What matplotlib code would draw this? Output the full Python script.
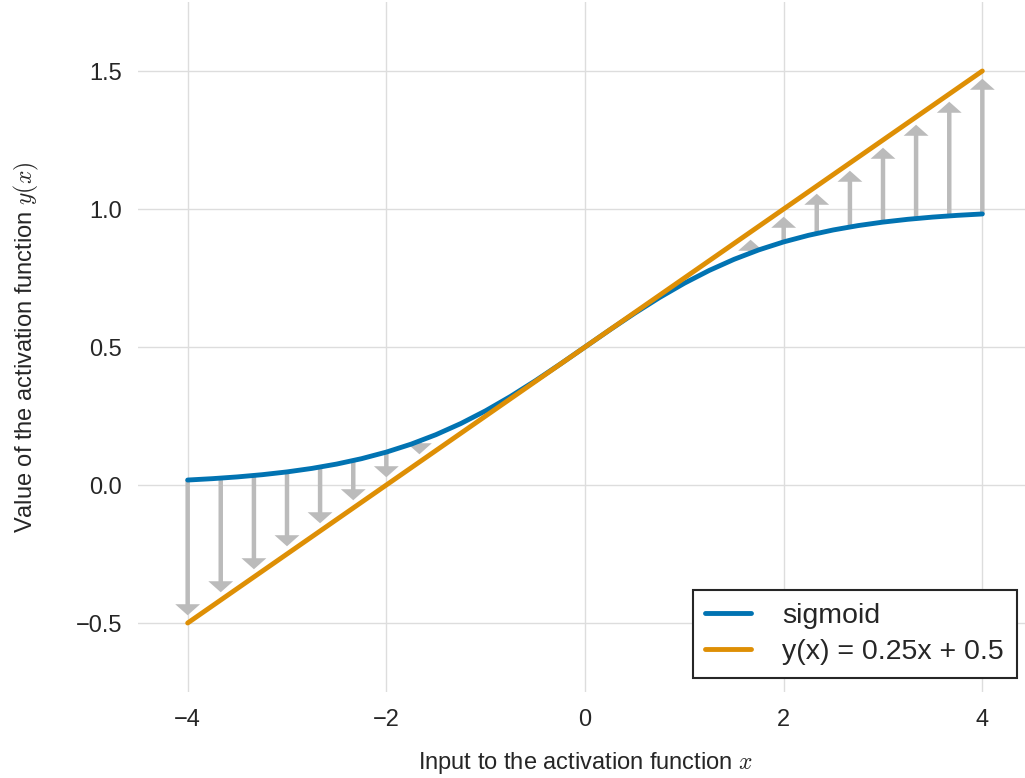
import matplotlib
matplotlib.use("Agg")
import matplotlib.pyplot as plt

# ---- data ----
curve_x = [-4.0, -3.75, -3.5, -3.25, -3.0, -2.75, -2.5, -2.25, -2.0, -1.75, -1.5,
           -1.25, -1.0, -0.75, -0.5, -0.25, 0.0, 0.25, 0.5, 0.75, 1.0, 1.25, 1.5,
           1.75, 2.0, 2.25, 2.5, 2.75, 3.0, 3.25, 3.5, 3.75, 4.0]
sigmoid_y = [0.01799, 0.02298, 0.02931, 0.03733, 0.04743, 0.06008, 0.07586, 0.09535,
             0.11920, 0.14805, 0.18243, 0.22270, 0.26894, 0.32082, 0.37754, 0.43782,
             0.50000, 0.56218, 0.62246, 0.67918, 0.73106, 0.77730, 0.81757, 0.85195,
             0.88080, 0.90465, 0.92414, 0.93992, 0.95257, 0.96267, 0.97069, 0.97702,
             0.98201]
line_x = [-4.0, 4.0]
line_y = [-0.5, 1.5]

arrow_x = [-4.0, -3.667, -3.333, -3.0, -2.667, -2.333, -2.0, -1.667,
           1.667, 2.0, 2.333, 2.667, 3.0, 3.333, 3.667, 4.0]
arrow_from = [0.0180, 0.0249, 0.0345, 0.0474, 0.0650, 0.0884, 0.1192, 0.1589,
              0.8411, 0.8808, 0.9116, 0.9350, 0.9526, 0.9655, 0.9751, 0.9820]
arrow_to = [-0.5, -0.4167, -0.3333, -0.25, -0.1667, -0.0833, 0.0, 0.0833,
            0.9167, 1.0, 1.0833, 1.1667, 1.25, 1.3333, 1.4167, 1.5]

x_ticks = [-4, -2, 0, 2, 4]
y_ticks = [-0.5, 0.0, 0.5, 1.0, 1.5]
x_tick_labels = ['\u22124', '\u22122', '0', '2', '4']
y_tick_labels = ['\u22120.5', '0.0', '0.5', '1.0', '1.5']

# ---- style ----
plt.rcParams['font.family'] = ['Liberation Sans', 'DejaVu Sans']
plt.rcParams['mathtext.fontset'] = 'cm'

fig = plt.figure(figsize=(10.25, 7.78), dpi=100)
ax = fig.add_axes([138 / 1025, 86 / 778, 894 / 1025, 690 / 778])

gap = 0.028
for x, a, b in zip(arrow_x, arrow_from, arrow_to):
    d = b - a
    sign = 1 if d > 0 else -1
    ax.arrow(x, a, 0, d - sign * gap, width=0.045, head_width=0.25,
             head_length=0.04, length_includes_head=True,
             color='#bbbbbb', ec='none', zorder=2)

ax.plot(curve_x, sigmoid_y, color='#0173B2', lw=3.5, label='sigmoid', zorder=3,
        solid_capstyle='round')
ax.plot(line_x, line_y, color='#DE8F05', lw=3.5, label='y(x) = 0.25x + 0.5', zorder=3,
        solid_capstyle='round')

ax.set_xlim(-4.5, 4.5)
ax.set_ylim(-0.75, 1.75)
ax.set_xticks(x_ticks)
ax.set_yticks(y_ticks)
ax.set_xticklabels(x_tick_labels)
ax.set_yticklabels(y_tick_labels)
ax.tick_params(axis='y', length=0, labelsize=17, colors='#262626', pad=11.5)
ax.tick_params(axis='x', length=0, labelsize=17, colors='#262626', pad=12)
ax.grid(True, color='#dddddd', lw=1)
ax.set_axisbelow(True)
for s in ax.spines.values():
    s.set_visible(False)

ax.set_xlabel('Input to the activation function $x$', fontsize=17, color='#262626',
              labelpad=14)
ax.set_ylabel('Value of the activation function $y(x)$', fontsize=17, color='#262626',
              labelpad=25)

leg = ax.legend(loc='lower right', bbox_to_anchor=(0.983, 0.0203), borderaxespad=0,
                fontsize=20.5, fancybox=False, framealpha=1, edgecolor='#262626',
                borderpad=0.45, handlelength=1.6, handletextpad=1.1,
                labelspacing=0.35)
leg.get_frame().set_linewidth(1.5)
for t in leg.get_texts():
    t.set_color('#262626')

fig.savefig('out.png', dpi=100)
